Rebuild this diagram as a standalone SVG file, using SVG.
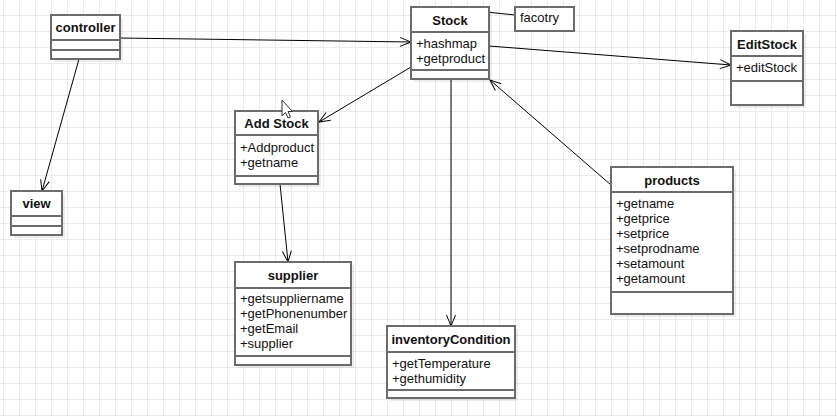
<svg xmlns="http://www.w3.org/2000/svg" width="837" height="416" viewBox="0 0 837 416">
<defs>
<pattern id="grid" x="3" y="-1" width="16" height="16" patternUnits="userSpaceOnUse">
<path d="M0.5 0V16M0 0.5H16" fill="none" stroke="#ebebeb" stroke-width="1"/>
</pattern>
<marker id="open" viewBox="-12 -6 13 12" markerWidth="13" markerHeight="12" refX="0" refY="0" orient="auto" markerUnits="userSpaceOnUse">
<path d="M-11,-4.5 L0,0 L-11,4.5" fill="none" stroke="#000" stroke-width="1"/>
</marker>
</defs>
<style>
.box{fill:#fff;stroke:#6b6b6b;stroke-width:2}
.sh{fill:#000;opacity:0.07}
.div{stroke:#6b6b6b;stroke-width:2}
.h{font-family:"Liberation Sans",Arial,sans-serif;font-size:13px;font-weight:bold;fill:#111;text-anchor:middle}
.t{font-family:"Liberation Sans",Arial,sans-serif;font-size:13px;fill:#111}
.c{fill:none;stroke:#000;stroke-width:1}
</style>
<rect width="837" height="416" fill="#fff"/>
<rect width="837" height="416" fill="url(#grid)"/>

<g id="connectors">
<line class="c" x1="120" y1="38" x2="411" y2="42" marker-end="url(#open)"/>
<line class="c" x1="79" y1="59" x2="42" y2="191" marker-end="url(#open)"/>
<line class="c" x1="489" y1="46" x2="731" y2="65" marker-end="url(#open)"/>
<line class="c" x1="486" y1="12" x2="515" y2="15"/>
<line class="c" x1="411" y1="67" x2="319" y2="122" marker-end="url(#open)"/>
<line class="c" x1="451" y1="79" x2="451" y2="326" marker-end="url(#open)"/>
<line class="c" x1="280" y1="184" x2="288" y2="262" marker-end="url(#open)"/>
<line class="c" x1="611" y1="185" x2="490" y2="80" marker-end="url(#open)"/>
</g>

<g id="controller">
<rect class="sh" x="54" y="18" width="69" height="44"/>
<rect class="box" x="51" y="15" width="69" height="44"/>
<line class="div" x1="51" y1="40" x2="120" y2="40"/>
<line class="div" x1="51" y1="50" x2="120" y2="50"/>
<text class="h" x="85.5" y="32">controller</text>
</g>

<g id="view">
<rect class="sh" x="14" y="194" width="51" height="44"/>
<rect class="box" x="11" y="191" width="51" height="44"/>
<line class="div" x1="11" y1="216" x2="62" y2="216"/>
<line class="div" x1="11" y1="226" x2="62" y2="226"/>
<text class="h" x="36.5" y="208">view</text>
</g>

<g id="stock">
<rect class="sh" x="414" y="10" width="78" height="72"/>
<rect class="box" x="411" y="7" width="78" height="72"/>
<line class="div" x1="411" y1="32" x2="489" y2="32"/>
<line class="div" x1="411" y1="70" x2="489" y2="70"/>
<text class="h" x="450" y="24.5">Stock</text>
<text class="t" x="416" y="47.5">+hashmap</text>
<text class="t" x="416" y="62.5">+getproduct</text>
</g>

<g id="facotry">
<rect class="box" x="515" y="7" width="59" height="24"/>
<text class="t" x="520" y="22">facotry</text>
</g>

<g id="editstock">
<rect class="sh" x="734" y="34" width="72" height="74"/>
<rect class="box" x="731" y="31" width="72" height="74"/>
<line class="div" x1="731" y1="56" x2="803" y2="56"/>
<line class="div" x1="731" y1="81" x2="803" y2="81"/>
<text class="h" x="767" y="48.5">EditStock</text>
<text class="t" x="736" y="72">+editStock</text>
</g>

<g id="addstock">
<rect class="sh" x="238" y="114" width="83" height="73"/>
<rect class="box" x="235" y="111" width="83" height="73"/>
<line class="div" x1="235" y1="135" x2="318" y2="135"/>
<line class="div" x1="235" y1="176" x2="318" y2="176"/>
<text class="h" x="276.5" y="128">Add Stock</text>
<text class="t" x="240" y="151.5">+Addproduct</text>
<text class="t" x="240" y="166.5">+getname</text>
</g>

<g id="supplier">
<rect class="sh" x="238" y="265" width="116" height="103"/>
<rect class="box" x="235" y="262" width="116" height="103"/>
<line class="div" x1="235" y1="288" x2="351" y2="288"/>
<line class="div" x1="235" y1="356" x2="351" y2="356"/>
<text class="h" x="293" y="280">supplier</text>
<text class="t" x="240" y="303">+getsuppliername</text>
<text class="t" x="240" y="318">+getPhonenumber</text>
<text class="t" x="240" y="333">+getEmail</text>
<text class="t" x="240" y="348">+supplier</text>
</g>

<g id="inventoryCondition">
<rect class="sh" x="390" y="329" width="128" height="72"/>
<rect class="box" x="387" y="326" width="128" height="72"/>
<line class="div" x1="387" y1="352" x2="515" y2="352"/>
<line class="div" x1="387" y1="390" x2="515" y2="390"/>
<text class="h" x="451" y="343.5">inventoryCondition</text>
<text class="t" x="392" y="367.5">+getTemperature</text>
<text class="t" x="392" y="382.5">+gethumidity</text>
</g>

<g id="products">
<rect class="sh" x="614" y="170" width="122" height="147"/>
<rect class="box" x="611" y="167" width="122" height="147"/>
<line class="div" x1="611" y1="192" x2="733" y2="192"/>
<line class="div" x1="611" y1="292" x2="733" y2="292"/>
<text class="h" x="672" y="184.5">products</text>
<text class="t" x="616" y="208">+getname</text>
<text class="t" x="616" y="223">+getprice</text>
<text class="t" x="616" y="238">+setprice</text>
<text class="t" x="616" y="253">+setprodname</text>
<text class="t" x="616" y="268">+setamount</text>
<text class="t" x="616" y="283">+getamount</text>
</g>

<path d="M282,100 L282,116 L285.5,112.5 L288,118 L290.5,117 L288,111.5 L292.5,111.5 Z" fill="#fff" stroke="#333" stroke-width="1"/>
</svg>
